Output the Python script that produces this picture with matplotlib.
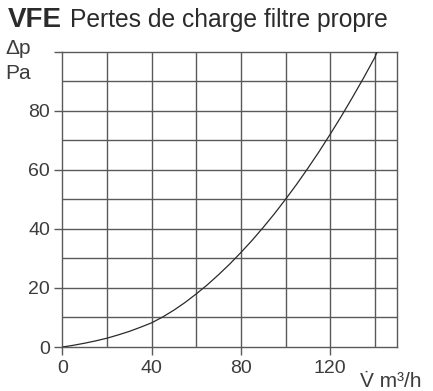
import matplotlib
matplotlib.use('Agg')
import matplotlib.pyplot as plt

plt.rcParams['font.family'] = ['Liberation Sans', 'DejaVu Sans']

# Débit (m³/h) et perte de charge (Pa)
debit = [0, 5, 10, 15, 20, 25, 30, 35, 40, 45, 50, 55, 60, 65, 70,
         75, 80, 85, 90, 95, 100, 105, 110, 115, 120, 125, 130, 135, 140, 141]
delta_p = [0, 0.6, 1.3, 2.1, 3.0, 4.1, 5.3, 6.7, 8.2, 10.2, 12.5, 15.1, 18.0,
           21.1, 24.5, 28.1, 32.0, 36.1, 40.5, 45.1, 50.0, 55.1, 60.5, 66.1,
           72.0, 78.1, 84.5, 91.1, 98.0, 99.8]

x_ticks = [0, 40, 80, 120]
y_ticks = [0, 20, 40, 60, 80]

GRID = '#5a5a5a'
TEXT = '#3c3c3c'

fig = plt.figure(figsize=(4.33, 3.91), dpi=100)
ax = fig.add_axes([0.1443, 0.1125, 0.7726, 0.7553])

# grille
for gx in range(20, 150, 20):
    ax.axvline(gx, color=GRID, lw=1.0, zorder=1)
for gy in range(10, 100, 10):
    ax.axhline(gy, color=GRID, lw=1.0, zorder=1)

ax.plot(debit, delta_p, color='#2a2a2a', lw=0.9, zorder=3)

ax.set_xlim(0, 150)
ax.set_ylim(0, 100)
ax.set_xticks(x_ticks)
ax.set_yticks(y_ticks + [100])
ax.set_yticklabels([str(v) for v in y_ticks] + [''])
ax.tick_params(axis='both', length=6, width=1.0, color=GRID,
               labelcolor=TEXT, labelsize=14, pad=3)
for s in ax.spines.values():
    s.set_color(GRID)
    s.set_linewidth(1.0)

# titre
fig.text(0.018, 0.93, 'VFE', fontsize=20, fontweight='bold', color='#2b2b2b')
fig.text(0.161, 0.93, 'Pertes de charge filtre propre', fontsize=17.7, color='#2b2b2b')

# unités
fig.text(0.012, 0.862, '\u0394p', fontsize=15, color=TEXT)
fig.text(0.012, 0.797, 'Pa', fontsize=15, color=TEXT)
fig.text(0.832, 0.01, 'V m\u00b3/h', fontsize=15, color=TEXT)
# point de débit volumique au-dessus du V
fig.text(0.8465, 0.013, '\u02d9', fontsize=15, color=TEXT, ha='center')

fig.savefig('out.png', dpi=100)
